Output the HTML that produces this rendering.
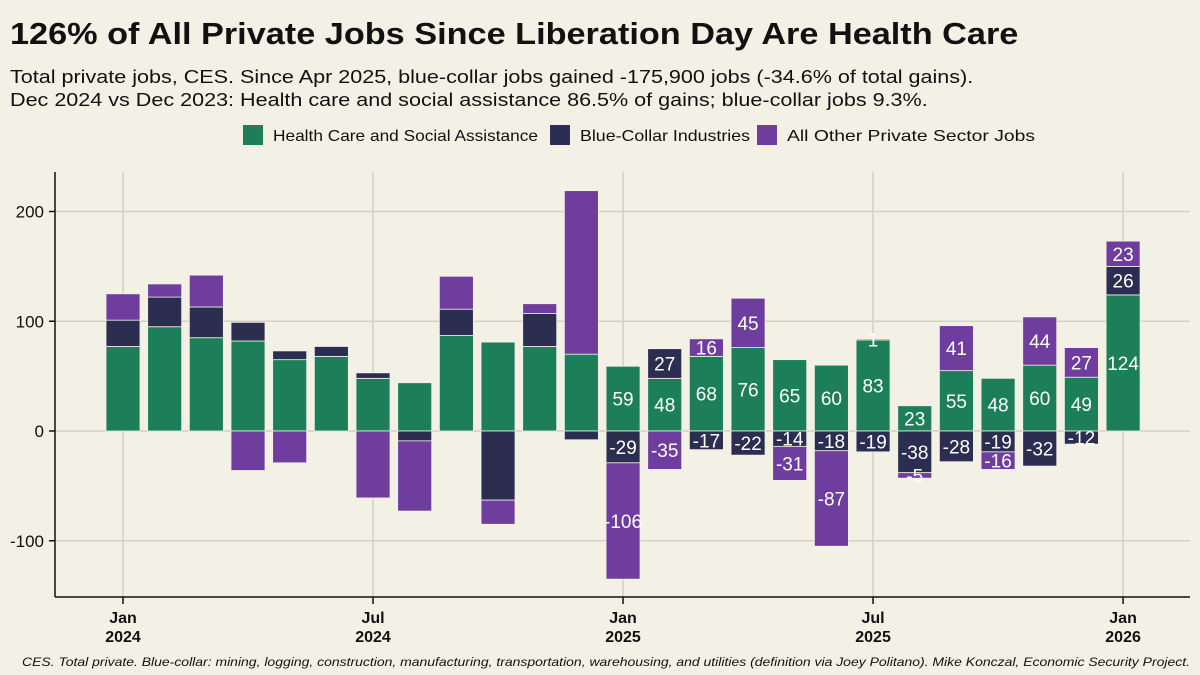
<!DOCTYPE html>
<html><head><meta charset="utf-8">
<style>
body{margin:0;background:#f3f0e5;font-family:"Liberation Sans",sans-serif;}
#wrap{position:relative;width:1200px;height:675px;overflow:hidden;background:#f3f0e5;}
.t{position:absolute;left:10px;white-space:nowrap;color:#111;transform-origin:0 0;}
</style></head><body>
<div id="wrap">
<div class="t" style="top:16px;font-size:31px;font-weight:bold;transform:scaleX(1.105);">126% of All Private Jobs Since Liberation Day Are Health Care</div>
<div class="t" style="top:66px;font-size:18.5px;transform:scaleX(1.165);">Total private jobs, CES. Since Apr 2025, blue-collar jobs gained -175,900 jobs (-34.6% of total gains).</div>
<div class="t" style="top:89px;font-size:18.5px;transform:scaleX(1.165);">Dec 2024 vs Dec 2023: Health care and social assistance 86.5% of gains; blue-collar jobs 9.3%.</div>
<svg id="chart" width="1200" height="675" style="position:absolute;left:0;top:0"></svg>
</div>
<script>
const months=["2024-01","2024-02","2024-03","2024-04","2024-05","2024-06","2024-07","2024-08","2024-09","2024-10","2024-11","2024-12","2025-01","2025-02","2025-03","2025-04","2025-05","2025-06","2025-07","2025-08","2025-09","2025-10","2025-11","2025-12","2026-01"];
const health=[77,95,85,82,65,68,48,44,87,81,77,70,59,48,68,76,65,60,83,23,55,48,60,49,124];
const blue=[24,27,28,17,8,9,5,-9,24,-63,30,-8,-29,27,-17,-22,-14,-18,-19,-38,-28,-19,-32,-12,26];
const other=[24,12,29,-36,-29,0,-61,-64,30,-22,9,149,-106,-35,16,45,-31,-87,1,-5,41,-16,44,27,23];
const yTicks=[-100,0,100,200];
const xTickIdx=[0,6,12,18,24];
const xTickLabels=[["Jan","2024"],["Jul","2024"],["Jan","2025"],["Jul","2025"],["Jan","2026"]];
const labelFrom=12;

const NS="http://www.w3.org/2000/svg";
const svg=document.getElementById('chart');
const y=v=>431-v*1.0975;
const x=i=>123+i*41.67;
const bw=34;
function mk(tag,attrs,parent){const e=document.createElementNS(NS,tag);for(const k in attrs)e.setAttribute(k,attrs[k]);(parent||svg).appendChild(e);return e;}
yTicks.forEach(v=>{
 const g=mk('line',{x1:55,x2:1190,y1:y(v),y2:y(v),stroke:'#d3d1c8','stroke-width':1.5});
 
 
 const t=mk('text',{x:44,y:y(v)+6,'text-anchor':'end','font-size':17,fill:'#111','font-family':'Liberation Sans, sans-serif'});
 t.textContent=v;
 
 
});
xTickIdx.forEach((i,k)=>{
 const g=mk('line',{x1:x(i),x2:x(i),y1:172,y2:597,stroke:'#d3d1c8','stroke-width':1.5});
 
 
 mk('line',{x1:x(i),x2:x(i),y1:597,y2:604,stroke:'#111','stroke-width':1.5});
 xTickLabels[k].forEach((s,j)=>{
  const t=mk('text',{x:x(i),y:623+j*19,'text-anchor':'middle','font-size':16,'font-weight':'bold',fill:'#111','font-family':'Liberation Sans, sans-serif'});
  t.textContent=s;
  
  
 });
});
const colors={h:'#1d7f5a',b:'#2b2e50',o:'#6e3d9e'};
months.forEach((m,i)=>{
 let pos=0,neg=0;
 [['h',health[i]],['b',blue[i]],['o',other[i]]].forEach(([k,v])=>{
  if(v===0)return;
  let y0,y1;
  if(v>0){y0=pos;y1=pos+v;pos=y1;}else{y0=neg;y1=neg+v;neg=y1;}
  const top=Math.min(y(y0),y(y1)),h=Math.abs(y(y1)-y(y0));
  const r=mk('rect',{x:x(i)-bw/2,y:top,width:bw,height:h,fill:colors[k],stroke:'#f3f0e5','stroke-width':0.8});
  
  
  if(i>=labelFrom){
   const t=mk('text',{x:x(i),y:top+h/2+7,'text-anchor':'middle','font-size':19,fill:'#fff','font-family':'Liberation Sans, sans-serif'});
   t.textContent=v;
   
   
  }
 });
});
mk('line',{x1:55,x2:55,y1:172,y2:597,stroke:'#111','stroke-width':1.5});
mk('line',{x1:55,x2:1190,y1:597,y2:597,stroke:'#111','stroke-width':1.5});
yTicks.forEach(v=>mk('line',{x1:49,x2:55,y1:y(v),y2:y(v),stroke:'#111','stroke-width':1.5}));
const leg=[['h','Health Care and Social Assistance',243,265],['b','Blue-Collar Industries',550,170],['o','All Other Private Sector Jobs',757,248]];
leg.forEach(([k,s,lx,tl])=>{
 const r=mk('rect',{x:lx,y:125,width:20,height:20,fill:colors[k]});
 
 
 const t=mk('text',{x:lx+30,y:141,'font-size':16,fill:'#111','font-family':'Liberation Sans, sans-serif',textLength:tl,lengthAdjust:'spacingAndGlyphs'});
 t.textContent=s;
 
 
});
const f=mk('text',{x:22,y:666,'font-size':12,'font-style':'italic',fill:'#111','font-family':'Liberation Sans, sans-serif',textLength:1168,lengthAdjust:'spacingAndGlyphs'});
f.textContent='CES. Total private. Blue-collar: mining, logging, construction, manufacturing, transportation, warehousing, and utilities (definition via Joey Politano). Mike Konczal, Economic Security Project.';


</script>
</body></html>
